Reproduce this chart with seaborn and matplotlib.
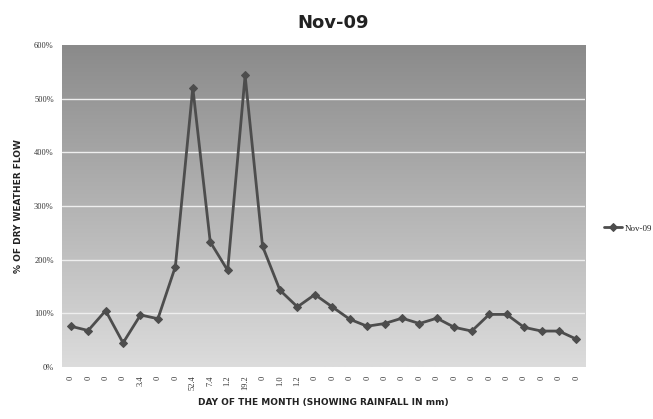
import numpy as np
import pandas as pd
import matplotlib
matplotlib.use("Agg")
import matplotlib.pyplot as plt
import seaborn as sns
from matplotlib.colors import LinearSegmentedColormap

# ---- data ----
rainfall_labels = ["0", "0", "0", "0", "3.4", "0", "0", "52.4", "7.4", "1.2",
                   "19.2", "0", "1.0", "1.2", "0", "0", "0", "0", "0", "0",
                   "0", "0", "0", "0", "0", "0", "0", "0", "0", "0"]
flow_pct = [76, 68, 105, 45, 97, 90, 187, 520, 233, 180,
            543, 225, 143, 112, 135, 112, 89, 76, 81, 91,
            81, 91, 74, 67, 98, 98, 74, 67, 67, 52]
series_name = "Nov-09"
y_ticks = [0, 100, 200, 300, 400, 500, 600]

df = pd.DataFrame({"day": np.arange(len(flow_pct)), "flow": flow_pct,
                   "series": series_name})

sns.set_theme(style="white")
plt.rcParams["font.family"] = ["DejaVu Sans"]

fig = plt.figure(figsize=(6.53, 4.19), dpi=100)
ax = fig.add_axes([0.095, 0.124, 0.801, 0.769])

# gradient background
cmap = LinearSegmentedColormap.from_list("g", ["#dcdcdc", "#8a8a8a"])
grad = np.linspace(0, 1, 256).reshape(-1, 1)
ax.imshow(grad, cmap=cmap, aspect="auto", origin="lower",
          extent=[-0.5, 29.5, 0, 600], zorder=0)

for t in y_ticks[1:-1]:
    ax.axhline(t, color="#eeeeee", lw=1.0, zorder=1)

sns.lineplot(data=df, x="day", y="flow", hue="series", palette=["#4d4d4d"],
             marker="D", markersize=4.5, markeredgecolor="#4d4d4d",
             linewidth=2.0, ax=ax, zorder=3)

ax.set_xlim(-0.5, 29.5)
ax.set_ylim(0, 600)
ax.set_xticks(np.arange(len(flow_pct)))
ax.set_xticklabels(rainfall_labels, rotation=90, fontsize=6,
                   family="Liberation Serif", color="#333333")
ax.set_yticks(y_ticks)
ax.set_yticklabels([f"{v}%" for v in y_ticks], fontsize=6,
                   family="Liberation Serif", color="#333333")
ax.tick_params(axis="both", length=0, pad=6)
for s in ax.spines.values():
    s.set_visible(False)

ax.set_xlabel("DAY OF THE MONTH (SHOWING RAINFALL IN mm)", fontsize=6.5,
              fontweight="bold", color="#222222", labelpad=6)
ax.set_ylabel("% OF DRY WEATHER FLOW", fontsize=6.5, fontweight="bold",
              color="#222222", labelpad=8)
fig.text(0.51, 0.945, "Nov-09", ha="center", va="center", fontsize=13,
         fontweight="bold", color="#222222")

handles, labels = ax.get_legend_handles_labels()
ax.legend(handles, labels, loc="center left", bbox_to_anchor=(0.912, 0.455),
          bbox_transform=fig.transFigure, frameon=False,
          prop={"family": "Liberation Serif", "size": 6.5},
          handlelength=2.0, handletextpad=0.3)

fig.savefig("out.png", dpi=100, facecolor="white")
